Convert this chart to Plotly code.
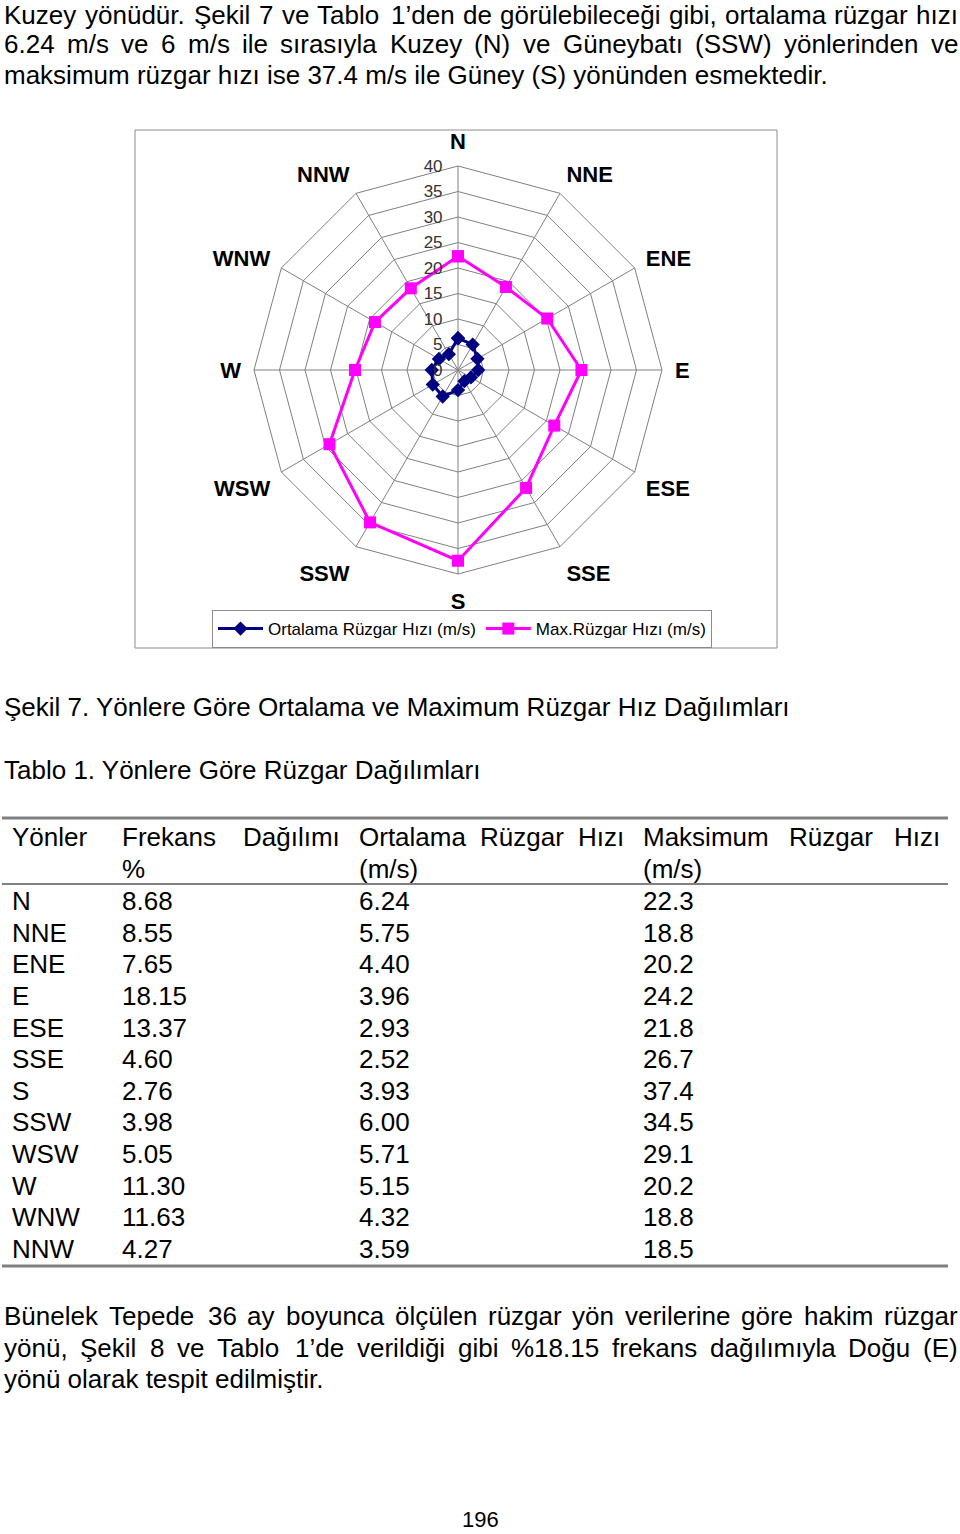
import plotly.graph_objects as go

# ---------------- data ----------------
directions = ["N", "NNE", "ENE", "E", "ESE", "SSE", "S", "SSW", "WSW", "W", "WNW", "NNW"]
frequency = [8.68, 8.55, 7.65, 18.15, 13.37, 4.60, 2.76, 3.98, 5.05, 11.30, 11.63, 4.27]
mean_speed = [6.24, 5.75, 4.40, 3.96, 2.93, 2.52, 3.93, 6.00, 5.71, 5.15, 4.32, 3.59]
max_speed = [22.3, 18.8, 20.2, 24.2, 21.8, 26.7, 37.4, 34.5, 29.1, 20.2, 18.8, 18.5]
radial_ticks = [0, 5, 10, 15, 20, 25, 30, 35, 40]

series_names = ["Ortalama Rüzgar Hızı (m/s)", "Max.Rüzgar Hızı (m/s)"]

para_top = [
    ("Kuzey yönüdür. Şekil 7 ve Tablo 1’den de görülebileceği gibi, ortalama rüzgar hızı", True),
    ("6.24 m/s ve 6 m/s ile sırasıyla Kuzey (N) ve Güneybatı (SSW) yönlerinden ve", True),
    ("maksimum rüzgar hızı ise 37.4 m/s ile Güney (S) yönünden esmektedir.", False),
]
para_bottom = [
    ("Bünelek Tepede 36 ay boyunca ölçülen rüzgar yön verilerine göre hakim rüzgar", True),
    ("yönü, Şekil 8 ve Tablo 1’de verildiği gibi %18.15 frekans dağılımıyla Doğu (E)", True),
    ("yönü olarak tespit edilmiştir.", False),
]
caption_fig = "Şekil 7. Yönlere Göre Ortalama ve Maximum Rüzgar Hız Dağılımları"
caption_tab = "Tablo 1. Yönlere Göre Rüzgar Dağılımları"
page_number = "196"

# ---------------- helpers ----------------
W, H = 960, 1534
FONT = "Liberation Sans, Arial, Helvetica, sans-serif"


def px(x):
    return x / W


def py(y):
    return 1 - y / H


# Helvetica/Arial advance widths (1/1000 em)
CW = {' ': 278, 'a': 556, 'b': 556, 'c': 500, 'd': 556, 'e': 556, 'f': 278, 'g': 556, 'h': 556,
      'i': 222, 'j': 222, 'k': 500, 'l': 222, 'm': 833, 'n': 556, 'o': 556, 'p': 556, 'q': 556,
      'r': 333, 's': 500, 't': 278, 'u': 556, 'v': 500, 'w': 722, 'x': 500, 'y': 500, 'z': 500,
      'A': 667, 'B': 667, 'C': 722, 'D': 722, 'E': 667, 'F': 611, 'G': 778, 'H': 722, 'I': 278,
      'J': 500, 'K': 667, 'L': 556, 'M': 833, 'N': 722, 'O': 778, 'P': 667, 'Q': 778, 'R': 722,
      'S': 667, 'T': 611, 'U': 722, 'V': 667, 'W': 944, 'X': 667, 'Y': 667, 'Z': 611,
      '.': 278, ',': 278, '(': 333, ')': 333, '/': 278, '%': 889, '’': 222, ':': 278,
      'ş': 500, 'ğ': 556, 'ı': 278, 'ö': 556, 'ü': 556, 'ç': 500, 'Ş': 667, 'Ö': 778,
      'Ü': 722, 'Ğ': 778, 'İ': 278, 'Ç': 722}


def text_w(s, size):
    return sum(CW.get(c, 556) for c in s) * size / 1000.0


annotations = []


def add_text(txt, x, y, size=26, anchor="left", color="black"):
    annotations.append(dict(text=txt, x=px(x), y=py(y), xref="paper", yref="paper",
                            xanchor=anchor, yanchor="middle", showarrow=False,
                            borderpad=0, font=dict(family=FONT, size=size, color=color)))


def add_justified(line, x0, x1, y, size=26):
    words = line.split(" ")
    widths = [text_w(w, size) for w in words]
    if len(words) == 1:
        add_text(line, x0, y, size)
        return
    gap = (x1 - x0 - sum(widths)) / (len(words) - 1)
    x = x0
    for w, wd in zip(words, widths):
        add_text(w, x, y, size)
        x += wd + gap


def add_paragraph(lines, ys):
    for (line, just), y in zip(lines, ys):
        if just:
            add_justified(line, 3, 957, y)
        else:
            add_text(line, 3, y)


# ---------------- figure ----------------
fig = go.Figure()

fig.add_trace(go.Scatterpolar(
    r=mean_speed + [mean_speed[0]], theta=directions + [directions[0]],
    mode="lines+markers", name=series_names[0],
    line=dict(color="#000080", width=3),
    marker=dict(symbol="diamond", size=11, color="#000080"),
))
fig.add_trace(go.Scatterpolar(
    r=max_speed + [max_speed[0]], theta=directions + [directions[0]],
    mode="lines+markers", name=series_names[1],
    line=dict(color="#FF00FF", width=3),
    marker=dict(symbol="square", size=12, color="#FF00FF"),
))

cx, cy, R = 458, 370, 204
fig.update_layout(
    width=W, height=H,
    margin=dict(l=0, r=0, t=0, b=0),
    paper_bgcolor="white",
    font=dict(family=FONT, color="black"),
    polar=dict(
        domain=dict(x=[px(cx - R), px(cx + R)], y=[py(cy + R), py(cy - R)]),
        bgcolor="white",
        gridshape="linear",
        angularaxis=dict(
            type="category", categoryorder="array", categoryarray=directions,
            direction="clockwise", rotation=90,
            showline=True, linecolor="#808080", linewidth=1,
            gridcolor="#808080", gridwidth=1,
            ticks="outside", ticklen=8, tickcolor="rgba(0,0,0,0)",
            tickfont=dict(family=FONT, size=22, color="black", weight="bold"),
        ),
        radialaxis=dict(
            range=[0, 40], tickmode="array", tickvals=radial_ticks,
            ticktext=[str(v) for v in radial_ticks],
            angle=90, tickangle=90, side="counterclockwise",
            showline=False, gridcolor="#808080", gridwidth=1,
            ticks="outside", ticklen=9, tickcolor="rgba(0,0,0,0)",
            tickfont=dict(family=FONT, size=17, color="#333333"),
        ),
    ),
    showlegend=True,
    legend=dict(
        orientation="h", x=px(462), y=py(629), xanchor="center", yanchor="middle",
        bordercolor="#8c8c8c", borderwidth=1, bgcolor="white",
        font=dict(family=FONT, size=17, color="black"), itemwidth=45,
    ),
)

shapes = []
# chart frame
shapes.append(dict(type="rect", xref="paper", yref="paper", x0=px(135), x1=px(777),
                   y0=py(648), y1=py(130), line=dict(color="#8c8c8c", width=1), layer="below"))
# table rules
for yy, lw in [(818, 3), (884, 2), (1266, 3)]:
    shapes.append(dict(type="line", xref="paper", yref="paper", x0=px(2), x1=px(948),
                       y0=py(yy), y1=py(yy), line=dict(color="#808080", width=lw)))

# texts
add_paragraph(para_top, [15, 44, 75])
add_text(caption_fig, 3, 707)
add_text(caption_tab, 3, 770)

# table header
add_text("Yönler", 11, 837)
add_justified("Frekans Dağılımı", 121, 339, 837)
add_text("%", 121, 869)
add_justified("Ortalama Rüzgar Hızı", 358, 623, 837)
add_text("(m/s)", 358, 869)
add_justified("Maksimum Rüzgar Hızı", 642, 939, 837)
add_text("(m/s)", 642, 869)

# table rows
for i, d in enumerate(directions):
    y = 901 + i * 31.64
    add_text(d, 11, y)
    add_text(f"{frequency[i]:.2f}", 121, y)
    add_text(f"{mean_speed[i]:.2f}", 358, y)
    add_text(f"{max_speed[i]:.1f}", 642, y)

add_paragraph(para_bottom, [1316, 1347.5, 1379])
add_text(page_number, 480, 1519, size=22, anchor="center")

fig.update_layout(shapes=shapes, annotations=annotations)
fig.write_html(
    "out.html",
    config={"displayModeBar": False},
    post_script="document.body.style.margin='0';document.body.style.overflow='hidden';",
)
